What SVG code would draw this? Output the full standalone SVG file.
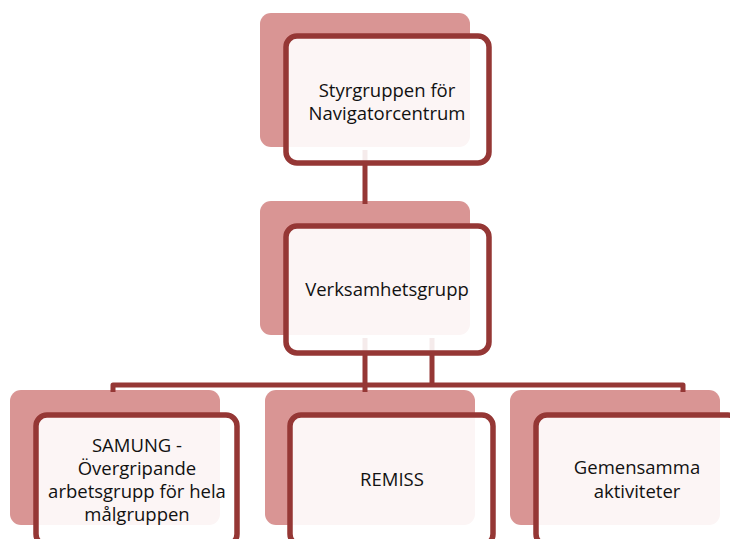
<svg xmlns="http://www.w3.org/2000/svg" width="730" height="539" viewBox="0 0 730 539">
<style>
.back{fill:#d99594;}
.front{fill:#ffffff;fill-opacity:0.9;stroke:#953735;stroke-width:5.5;}
.conn{fill:none;stroke:#953735;stroke-width:5;stroke-linejoin:round;}
.t{font-family:"Open Sans","Liberation Sans",sans-serif;font-size:18.5px;fill:#111;text-anchor:middle;}
</style>
<rect width="730" height="539" fill="#ffffff"/>
<g id="backs">
<rect class="back" x="260" y="13" width="210" height="134" rx="11"/>
<rect class="back" x="260" y="201" width="210" height="134" rx="11"/>
<rect class="back" x="10" y="390" width="210" height="135" rx="11"/>
<rect class="back" x="265" y="390" width="210" height="135" rx="11"/>
<rect class="back" x="510" y="390" width="210" height="135" rx="11"/>
</g>
<g id="connectors">
<path class="conn" d="M365,150 V204"/>
<path class="conn" d="M365,338 V392"/>
<path class="conn" d="M432,338 V385"/>
<path class="conn" d="M113,392 V385 H683 V392"/>
</g>
<g id="n1">
<rect class="front" x="286" y="36" width="203" height="127" rx="11"/>
<text class="t" x="387" y="96.5">Styrgruppen för</text>
<text class="t" x="387" y="120">Navigatorcentrum</text>
</g>
<g id="n2">
<rect class="front" x="286" y="226" width="203" height="127" rx="11"/>
<text class="t" x="387" y="296">Verksamhetsgrupp</text>
</g>
<g id="n3">
<rect class="front" x="36" y="415" width="201" height="130" rx="11"/>
<text class="t" x="137" y="452">SAMUNG -</text>
<text class="t" x="137" y="475">Övergripande</text>
<text class="t" x="137" y="498">arbetsgrupp för hela</text>
<text class="t" x="137" y="521">målgruppen</text>
</g>
<g id="n4">
<rect class="front" x="290" y="415" width="203" height="130" rx="11"/>
<text class="t" x="392" y="486">REMISS</text>
</g>
<g id="n5">
<rect class="front" x="536" y="415" width="203" height="130" rx="11"/>
<text class="t" x="637" y="474">Gemensamma</text>
<text class="t" x="637" y="497.5">aktiviteter</text>
</g>
</svg>
